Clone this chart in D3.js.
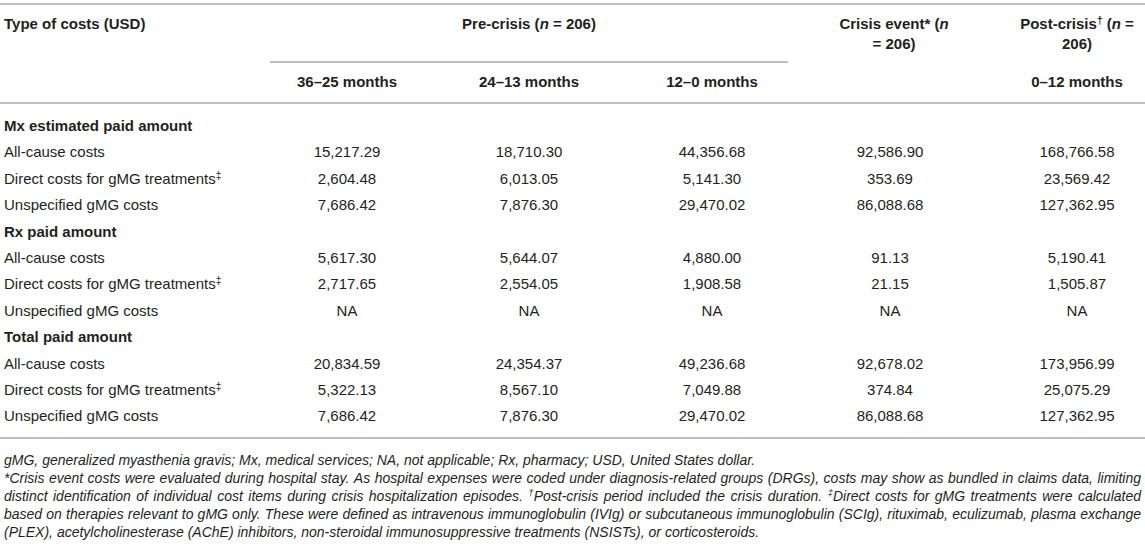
<!DOCTYPE html>
<html>
<head>
<meta charset="utf-8">
<script src="https://cdn.jsdelivr.net/npm/d3@7"></script>
<style>
  body { margin: 0; background: #fff; }
  svg { display: block; font-family: "Liberation Sans", Arial, Helvetica, sans-serif; }
</style>
</head>
<body>
<script>
// Table data
const periods = ["36–25 months", "24–13 months", "12–0 months", "Crisis event", "0–12 months"];
const periodLabels = ["36–25 months", "24–13 months", "12–0 months", "", "0–12 months"];
const sections = ["Mx estimated paid amount", "Rx paid amount", "Total paid amount"];
const costTypes = ["All-cause costs", "Direct costs for gMG treatments", "Unspecified gMG costs"];

const mxValues = [
  [15217.29, 18710.30, 44356.68, 92586.90, 168766.58],
  [2604.48, 6013.05, 5141.30, 353.69, 23569.42],
  [7686.42, 7876.30, 29470.02, 86088.68, 127362.95]
];
const rxValues = [
  [5617.30, 5644.07, 4880.00, 91.13, 5190.41],
  [2717.65, 2554.05, 1908.58, 21.15, 1505.87],
  [null, null, null, null, null]
];
const totalValues = [
  [20834.59, 24354.37, 49236.68, 92678.02, 173956.99],
  [5322.13, 8567.10, 7049.88, 374.84, 25075.29],
  [7686.42, 7876.30, 29470.02, 86088.68, 127362.95]
];

// footnote lines, "^" marks a superscript symbol
const footnotes = [
  { text: "gMG, generalized myasthenia gravis; Mx, medical services; NA, not applicable; Rx, pharmacy; USD, United States dollar.", justify: false },
  { text: "*Crisis event costs were evaluated during hospital stay. As hospital expenses were coded under diagnosis-related groups (DRGs), costs may show as bundled in claims data, limiting", justify: true },
  { text: "distinct identification of individual cost items during crisis hospitalization episodes. ^†Post-crisis period included the crisis duration. ^‡Direct costs for gMG treatments were calculated", justify: true },
  { text: "based on therapies relevant to gMG only. These were defined as intravenous immunoglobulin (IVIg) or subcutaneous immunoglobulin (SCIg), rituximab, eculizumab, plasma exchange", justify: true },
  { text: "(PLEX), acetylcholinesterase (AChE) inhibitors, non-steroidal immunosuppressive treatments (NSISTs), or corticosteroids.", justify: false }
];

const width = 1145;
const height = 547;
const left = 4;
const right = 1141;
const ink = "#231f20";
const ruleColor = "#a8a8a8";

const svg = d3.select("body").append("svg")
  .attr("width", width)
  .attr("height", height)
  .attr("viewBox", [0, 0, width, height]);

// column centres
const x = d3.scaleOrdinal(periods, [347, 529, 712, 890, 1077]);

// body rows
const rows = [];
sections.forEach((s, si) => {
  rows.push({ label: s, section: true });
  const vals = [mxValues, rxValues, totalValues][si];
  costTypes.forEach((c, ci) => {
    rows.push({ label: c, sup: ci === 1 ? "‡" : null, values: vals[ci] });
  });
});

const y = d3.scaleLinear().domain([0, rows.length - 1]).range([125.6, 416]);
const fmt = d3.format(",.2f");

// rules
function rule(x1, x2, yy) {
  svg.append("line")
    .attr("x1", x1).attr("x2", x2)
    .attr("y1", yy).attr("y2", yy)
    .attr("stroke", ruleColor)
    .attr("stroke-width", 1.6);
}
rule(0, width, 4);
rule(x(periods[0]) - 77, x(periods[2]) + 76, 62);
rule(0, width, 103);
rule(0, width, 438);

// write a text made of parts: strings, {i: ...} italic, {sup: ...} superscript
function rich(sel, parts) {
  let raised = false;
  parts.forEach(p => {
    const t = sel.append("tspan");
    if (typeof p === "string") {
      t.text(p);
      if (raised) { t.attr("dy", 5); raised = false; }
    } else if (p.i) {
      t.text(p.i).attr("font-style", "italic");
      if (raised) { t.attr("dy", 5); raised = false; }
    } else if (p.sup) {
      t.text(p.sup).attr("font-size", "0.68em").attr("dy", -5);
      raised = true;
    }
  });
  return sel;
}

// header
const head = svg.append("g")
  .attr("fill", ink)
  .attr("font-weight", "bold")
  .attr("font-size", 15);

const line1 = 29, line2 = 49, line3 = 86.5;

head.append("text").attr("x", left).attr("y", line1).text("Type of costs (USD)");

rich(head.append("text").attr("x", x(periods[1])).attr("y", line1).attr("text-anchor", "middle"),
  ["Pre-crisis (", { i: "n" }, " = 206)"]);

rich(head.append("text").attr("x", x(periods[3]) + 4).attr("y", line1).attr("text-anchor", "middle"),
  ["Crisis event* (", { i: "n" }]);
head.append("text").attr("x", x(periods[3]) + 4).attr("y", line2).attr("text-anchor", "middle").text("= 206)");

rich(head.append("text").attr("x", x(periods[4])).attr("y", line1).attr("text-anchor", "middle"),
  ["Post-crisis", { sup: "†" }, " (", { i: "n" }, " ="]);
head.append("text").attr("x", x(periods[4])).attr("y", line2).attr("text-anchor", "middle").text("206)");

head.selectAll("text.period")
  .data(periods.filter((p, i) => periodLabels[i]))
  .join("text")
  .attr("class", "period")
  .attr("x", d => x(d))
  .attr("y", line3)
  .attr("text-anchor", "middle")
  .text(d => periodLabels[periods.indexOf(d)]);

// body
const body = svg.append("g")
  .attr("fill", ink)
  .attr("font-size", 15);

const row = body.selectAll("g.row")
  .data(rows)
  .join("g")
  .attr("class", "row")
  .attr("transform", (d, i) => `translate(0,${y(i) + 5.4})`);

row.append("text")
  .attr("x", left)
  .attr("font-weight", d => d.section ? "bold" : null)
  .each(function (d) {
    const parts = d.sup ? [d.label, { sup: d.sup }] : [d.label];
    rich(d3.select(this), parts);
  });

row.filter(d => !d.section)
  .selectAll("text.val")
  .data(d => d.values.map((v, i) => ({ v, p: periods[i] })))
  .join("text")
  .attr("class", "val")
  .attr("x", d => x(d.p))
  .attr("text-anchor", "middle")
  .text(d => d.v == null ? "NA" : fmt(d.v));

// footnotes, justified word by word
const notes = svg.append("g")
  .attr("fill", ink)
  .attr("font-size", 14)
  .attr("font-style", "italic");

const probe = notes.append("text").text("a a");
const probe2 = notes.append("text").text("aa");
const spaceW = probe.node().getComputedTextLength() - probe2.node().getComputedTextLength();
probe.remove();
probe2.remove();

const noteY = d3.scaleLinear().domain([0, footnotes.length - 1]).range([465, 537]);

footnotes.forEach((f, li) => {
  const words = f.text.split(" ");
  const line = notes.append("g");
  const nodes = words.map(w => {
    const t = line.append("text").attr("y", noteY(li));
    if (w.startsWith("^")) {
      rich(t, [{ sup: w[1] }, w.slice(2)]);
    } else {
      t.text(w);
    }
    return t;
  });
  const widths = nodes.map(n => n.node().getComputedTextLength());
  let gap = spaceW;
  if (f.justify) gap = Math.max(spaceW * 0.8, (right - left - d3.sum(widths)) / (words.length - 1));
  let cx = left;
  nodes.forEach((n, i) => {
    n.attr("x", cx);
    cx += widths[i] + gap;
  });
});
</script>
</body>
</html>
